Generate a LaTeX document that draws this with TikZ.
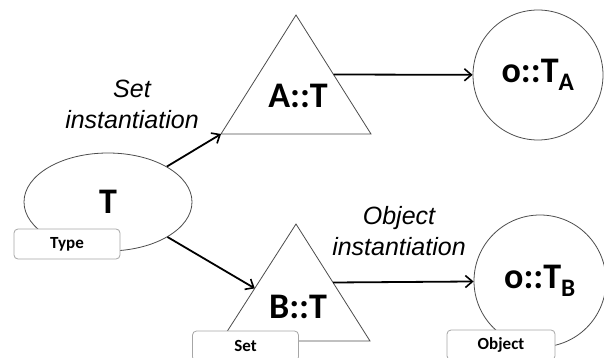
\documentclass[tikz,border=0pt]{standalone}
\usepackage{fontspec}
\setmainfont{Carlito}
\newfontfamily\captfont{Liberation Sans}
\usetikzlibrary{shapes.geometric,arrows.meta,calc}

\begin{document}
\begin{tikzpicture}[x=1pt,y=-1pt,
   outline/.style={draw=black!70,line width=0.8pt},
   bigtext/.style={font=\fontsize{36}{40}\selectfont\bfseries},
   tagbox/.style={draw=black!35,line width=0.8pt,fill=white,rounded corners=4pt,
     minimum width=106pt,minimum height=30pt,inner sep=0pt,
     font=\fontsize{17}{20}\selectfont\bfseries},
   caption/.style={align=center,font=\captfont\itshape\fontsize{25}{31}\selectfont},
   link/.style={line width=1.8pt,-{Straight Barb[length=7pt,width=12pt,line width=1.6pt]}}]
   \useasboundingbox (0,0) rectangle (604,358);
   % the type
   \node[ellipse,outline,minimum width=168pt,minimum height=98pt,bigtext]
     (T) at (108,202) {T};
   % the two sets
   \coordinate (Atop) at (296,15);
   \coordinate (Aleft) at (221,134);
   \coordinate (Aright) at (371,134);
   \draw[outline] (Atop) -- (Aleft) -- (Aright) -- cycle;
   \node[bigtext] (A) at (298,96) {A::T};
   \coordinate (Btop) at (296,224);
   \coordinate (Bleft) at (221,341);
   \coordinate (Bright) at (370,341);
   \draw[outline] (Btop) -- (Bleft) -- (Bright) -- cycle;
   \node[bigtext] (B) at (298,307) {B::T};
   % the two objects
   \node[circle,outline,minimum size=130pt,inner sep=0pt,bigtext]
     (oA) at (538,75) {o::T\textsubscript{A}};
   \node[circle,outline,minimum size=132pt,inner sep=0pt,bigtext]
     (oB) at (540,281) {o::T\textsubscript{B}};
   % instantiation arrows
   \draw[link] (T) -- (Aleft);
   \draw[link] (T) -- ($(Btop)!0.55!(Bleft)$);
   \draw[link] ($(Atop)!0.5!(Aright)$) -- (oA);
   \draw[link] ($(Btop)!0.5!(Bright)$) -- (oB);
   \node[caption] (setinst) at (132,104) {Set\\instantiation};
   \node[caption] (objinst) at (399,231) {Object\\instantiation};
   % tags
   \node[tagbox] (typetag) at (67,244) {Type};
   \node[tagbox] (settag) at (245.5,346) {Set};
   \node[tagbox,minimum width=108pt] (objtag) at (501,345) {Object};
\end{tikzpicture}
\end{document}
